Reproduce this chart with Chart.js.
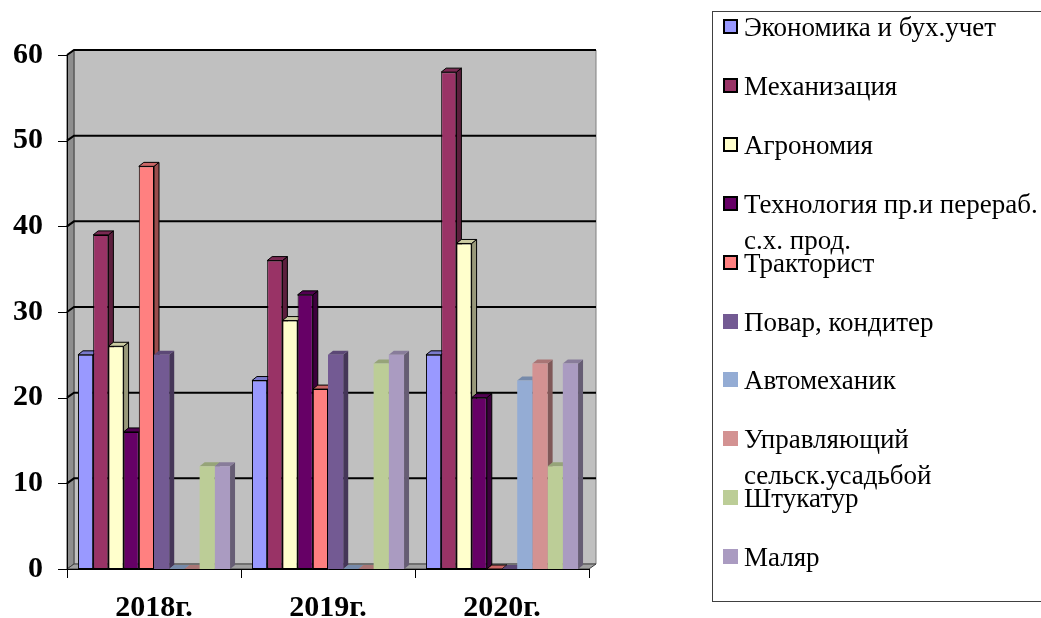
<!DOCTYPE html>
<html>
<head>
<meta charset="utf-8">
<script src="https://cdn.jsdelivr.net/npm/chart.js@4"></script>
<style>
    html, body { margin: 0; padding: 0; background: #fff; overflow: hidden; }
    #wrap { position: relative; width: 1041px; height: 618px; }
    #chart { position: absolute; left: 0; top: 0; }
    #legend {
        position: absolute; left: 712px; top: 11px; width: 360px; height: 591px;
        border: 1px solid #404040; box-sizing: border-box;
        font-family: 'Liberation Serif', 'Times New Roman', serif; font-size: 27px; color: #000;
    }
    .item { position: absolute; left: 10px; display: flex; align-items: flex-start; line-height: 36px; }
    .mark { display: block; width: 15px; height: 15px; box-sizing: border-box; margin-top: 10px; margin-right: 6px; flex: none; }
    .txt { width: 310px; }
</style>
</head>
<body>
<div id="wrap">
    <canvas id="chart" width="1041" height="618"></canvas>
    <div id="legend"></div>
</div>
<script>
// Données
const categories = ['2018г.', '2019г.', '2020г.'];
const seriesNames = [
    'Экономика и бух.учет',
    'Механизация',
    'Агрономия',
    'Технология пр.и перераб. с.х. прод.',
    'Тракторист',
    'Повар, кондитер',
    'Автомеханик',
    'Управляющий сельск.усадьбой',
    'Штукатур',
    'Маляр'
];
const economika   = [25, 22, 25];
const mehanizacia = [39, 36, 58];
const agronomia   = [26, 29, 38];
const tehnologia  = [16, 32, 20];
const traktorist  = [47, 21, 0];
const povar       = [25, 25, 0];
const avtomehanik = [0, 0, 22];
const upravl      = [0, 0, 24];
const shtukatur   = [12, 24, 12];
const malyar      = [12, 25, 24];
const yMin = 0, yMax = 60, yStep = 10;

const seriesValues = [economika, mehanizacia, agronomia, tehnologia, traktorist,
                      povar, avtomehanik, upravl, shtukatur, malyar];

// Couleurs (les 5 premières séries ont un contour noir)
const colors = ['#9999ff', '#993366', '#ffffcc', '#660066', '#ff8080',
                '#735a93', '#94acd4', '#d39292', '#bccd97', '#aa9bc1'];
const outlined = [true, true, true, true, true, false, false, false, false, false];

const WALL_DX = 7, WALL_DY = 5;
const BAR_DX = 5, BAR_DY = 4;
const FONT = "'Liberation Serif', 'Times New Roman', serif";

function shade(hex, k) {
    const n = parseInt(hex.slice(1), 16);
    const r = Math.round(((n >> 16) & 255) * k);
    const g = Math.round(((n >> 8) & 255) * k);
    const b = Math.round((n & 255) * k);
    return `rgb(${r},${g},${b})`;
}

function poly(ctx, pts, fill, stroke) {
    ctx.beginPath();
    ctx.moveTo(pts[0][0], pts[0][1]);
    for (let i = 1; i < pts.length; i++) ctx.lineTo(pts[i][0], pts[i][1]);
    ctx.closePath();
    if (fill) { ctx.fillStyle = fill; ctx.fill(); }
    if (stroke) { ctx.strokeStyle = stroke; ctx.lineWidth = 1; ctx.stroke(); }
}

// Effet 3D façon Excel : murs, quadrillage, faces latérales des barres
const box3d = {
    id: 'box3d',
    beforeDraw(chart) {
        const { ctx, chartArea: a } = chart;
        const L = a.left, R = a.right, T = a.top, B = a.bottom;
        ctx.save();
        poly(ctx, [[L + WALL_DX, T - WALL_DY], [R + WALL_DX, T - WALL_DY], [R + WALL_DX, B - WALL_DY], [L + WALL_DX, B - WALL_DY]], '#c0c0c0', '#808080');
        poly(ctx, [[L, T], [L + WALL_DX, T - WALL_DY], [L + WALL_DX, B - WALL_DY], [L, B]], '#8e8e8e', '#404040');
        poly(ctx, [[L, B], [L + WALL_DX, B - WALL_DY], [R + WALL_DX, B - WALL_DY], [R, B]], '#a0a0a0', '#404040');
        ctx.restore();
    },
    beforeDatasetsDraw(chart) {
        const { ctx, chartArea: a, scales } = chart;
        const L = a.left, R = a.right;
        ctx.save();
        // quadrillage sur le mur du fond
        ctx.strokeStyle = '#000';
        ctx.lineWidth = 2;
        scales.y.ticks.forEach(t => {
            if (t.value === yMin) return;
            const y = scales.y.getPixelForValue(t.value);
            ctx.beginPath();
            ctx.moveTo(L, y);
            ctx.lineTo(L + WALL_DX, y - WALL_DY);
            ctx.lineTo(R + WALL_DX, y - WALL_DY);
            ctx.stroke();
        });
        // faces latérales et supérieures
        chart.data.datasets.forEach((ds, i) => {
            const meta = chart.getDatasetMeta(i);
            const side = shade(colors[i], 0.6);
            const top = shade(colors[i], 0.8);
            const stroke = outlined[i] ? '#000' : null;
            meta.data.forEach(el => {
                const l = el.x - el.width / 2, r = el.x + el.width / 2;
                const t = Math.min(el.y, el.base), b = el.base;
                poly(ctx, [[r, t], [r + BAR_DX, t - BAR_DY], [r + BAR_DX, b - BAR_DY], [r, b]], side, stroke);
                poly(ctx, [[l, t], [l + BAR_DX, t - BAR_DY], [r + BAR_DX, t - BAR_DY], [r, t]], top, stroke);
            });
        });
        ctx.restore();
    },
    afterDatasetsDraw(chart) {
        const { ctx, chartArea: a, scales } = chart;
        const L = a.left, R = a.right, T = a.top, B = a.bottom;
        ctx.save();
        ctx.strokeStyle = '#000';
        ctx.lineWidth = 1;
        ctx.beginPath();
        ctx.moveTo(L + 0.5, T); ctx.lineTo(L + 0.5, B + 0.5); ctx.lineTo(R, B + 0.5);
        scales.y.ticks.forEach(t => {
            const y = Math.round(scales.y.getPixelForValue(t.value)) + 0.5;
            ctx.moveTo(L - 9, y); ctx.lineTo(L + 0.5, y);
        });
        for (let i = 0; i <= categories.length; i++) {
            const x = Math.round(L + (R - L) * i / categories.length) + 0.5;
            ctx.moveTo(x, B); ctx.lineTo(x, B + 9);
        }
        ctx.stroke();
        ctx.restore();
    }
};

const chart = new Chart(document.getElementById('chart'), {
    type: 'bar',
    data: {
        labels: categories,
        datasets: seriesNames.map((name, i) => ({
            label: name,
            data: seriesValues[i],
            backgroundColor: colors[i],
            borderColor: '#000',
            borderWidth: outlined[i] ? 1 : 0,
            borderSkipped: false,
            categoryPercentage: 0.874,
            barPercentage: 1
        }))
    },
    options: {
        responsive: false,
        animation: false,
        devicePixelRatio: 1,
        layout: { padding: { left: 0, top: 55, right: 452, bottom: 0 } },
        plugins: {
            legend: { display: false },
            tooltip: { enabled: false }
        },
        scales: {
            x: {
                grid: { display: false, drawTicks: false },
                border: { display: false },
                ticks: { color: '#000', padding: 21, font: { family: FONT, size: 30, weight: 'bold' } },
                afterFit(s) { s.height = 49; }
            },
            y: {
                min: yMin,
                max: yMax,
                grid: { display: false, drawTicks: false },
                border: { display: false },
                ticks: { stepSize: yStep, color: '#000', padding: 24, font: { family: FONT, size: 30, weight: 'bold' } },
                afterFit(s) { s.width = 67; }
            }
        }
    },
    plugins: [box3d]
});

// Légende HTML
const legend = document.getElementById('legend');
seriesNames.forEach((name, i) => {
    const item = document.createElement('div');
    item.className = 'item';
    item.style.top = (27 + i * 58.9 - 18 - 12) + 'px';
    const mark = document.createElement('span');
    mark.className = 'mark';
    mark.style.background = colors[i];
    if (outlined[i]) mark.style.border = '2px solid #000';
    const txt = document.createElement('span');
    txt.className = 'txt';
    txt.textContent = name;
    item.appendChild(mark);
    item.appendChild(txt);
    legend.appendChild(item);
});
</script>
</body>
</html>
